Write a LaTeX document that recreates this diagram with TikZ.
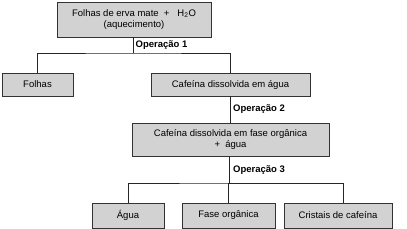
\documentclass[tikz,border=0pt]{standalone}
\usepackage{fontspec}
\setmainfont{Liberation Sans}
\begin{document}
\begin{tikzpicture}[x=1pt,y=-1pt,
  box/.style={draw=black!80,fill=gray!35,line width=0.8pt,inner sep=1pt,align=center,font=\fontsize{9.5}{11}\selectfont},
  lbl/.style={anchor=west,inner sep=0pt,font=\bfseries\fontsize{9.5}{11}\selectfont},
  conn/.style={draw=black!85,line width=0.8pt}]
\useasboundingbox (0,0) rectangle (407,229);
\node[box,minimum width=154pt,minimum height=35pt] (top) at (134,19.5) {Folhas de erva mate\ \ +\ \ \ H\textsubscript{2}O\\(aquecimento)};
\node[box,minimum width=71pt,minimum height=23pt] (folhas) at (37.5,84.5) {Folhas};
\node[box,minimum width=159pt,minimum height=23pt] (caf) at (230.5,84.5) {Cafeína dissolvida em água};
\node[box,minimum width=197pt,minimum height=33pt] (org) at (230.5,139.5) {Cafeína dissolvida em fase orgânica\\+\ \ água};
\node[box,minimum width=72pt,minimum height=25pt] (agua) at (128,215.5) {Água};
\node[box,minimum width=93pt,minimum height=25pt] (fase) at (228.5,215.5) {Fase orgânica};
\node[box,minimum width=108pt,minimum height=25pt] (crist) at (338,215.5) {Cristais de cafeína};
\coordinate (j1) at (133,53);
\coordinate (j3) at (229,183);
\coordinate (c3) at (343,183);
\draw[conn] (top.south -| j1) -- (j1);
\draw[conn] (folhas.north) |- (j1) -| (caf.north);
\draw[conn] (caf.south) -- (org.north);
\draw[conn] (org.south -| j3) -- (j3);
\draw[conn] (agua.north) |- (j3) -| (fase.north);
\draw[conn] (j3) -- (c3) -- (c3 |- crist.north);
\node[lbl] (op1) at (135.5,45) {Operação 1};
\node[lbl] (op2) at (233,109) {Operação 2};
\node[lbl] (op3) at (233,170) {Operação 3};
\end{tikzpicture}
\end{document}
